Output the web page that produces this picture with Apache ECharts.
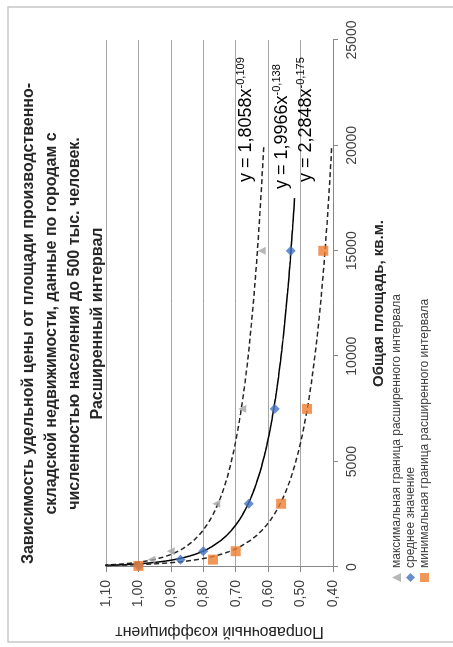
<!DOCTYPE html>
<html>
<head>
<meta charset="utf-8">
<script src="https://cdn.jsdelivr.net/npm/echarts@6/dist/echarts.min.js"></script>
<style>
  html, body { margin: 0; padding: 0; background: #fff; overflow: hidden; }
  /* the chart is laid out landscape and turned a quarter turn counter-clockwise */
  #main {
    position: absolute; left: 0; top: 0;
    width: 647px; height: 453px;
    transform-origin: 0 0;
    transform: translate(0, 647px) rotate(-90deg);
  }
</style>
</head>
<body>
<div id="main"></div>
<script>
// data
const areas = [50, 350, 750, 3000, 7500, 15000]
const maxCoef = [1.00, 0.96, 0.90, 0.76, 0.68, 0.62]
const meanCoef = [1.00, 0.87, 0.80, 0.66, 0.58, 0.53]
const minCoef = [1.00, 0.77, 0.70, 0.56, 0.48, 0.43]
const seriesNames = [
  'максимальная граница расширенного интервала',
  'среднее значение',
  'минимальная граница расширенного интервала'
]
// power trendlines as printed on the chart: y = a * x^b
const trendA = [1.8058, 1.9966, 2.2848]
const trendB = [-0.109, -0.138, -0.175]
const trendEnd = [20000, 17500, 20000]
const trendLabels = ['1,8058', '1,9966', '2,2848']
const trendPowLabels = ['-0,109', '-0,138', '-0,175']

const titleLines = [
  'Зависимость удельной цены от площади производственно-',
  'складской недвижимости, данные по городам с',
  'численностью населения до 500 тыс. человек.',
  'Расширенный интервал'
]

function pts (ys) {
  return areas.map((x, i) => [x, ys[i]])
}

function trend (k) {
  const res = []
  let x = 40
  while (x < trendEnd[k]) {
    res.push([x, trendA[k] * Math.pow(x, trendB[k])])
    x = x < 1000 ? x + 20 : x + 250
  }
  res.push([trendEnd[k], trendA[k] * Math.pow(trendEnd[k], trendB[k])])
  return res
}

const font = 'Liberation Sans, Arial, sans-serif'
const myChart = echarts.init(document.getElementById('main'), null, { renderer: 'canvas' })

const eqPos = [[465, 235], [458, 271], [465, 295]]

const option = {
  backgroundColor: '#fff',
  animation: false,
  textStyle: { fontFamily: font },
  title: {
    text: titleLines.join('\n'),
    left: 'center',
    top: 12,
    textStyle: { fontSize: 16, fontWeight: 'bold', color: '#262626', lineHeight: 23, fontFamily: font }
  },
  legend: {
    orient: 'vertical',
    left: 60,
    top: 385,
    itemWidth: 9,
    itemHeight: 9,
    itemGap: 1,
    data: seriesNames,
    textStyle: { fontSize: 12, color: '#404040', fontFamily: font, lineHeight: 13 }
  },
  grid: { left: 74, right: 40, top: 106, bottom: 120 },
  xAxis: {
    type: 'value',
    min: 0,
    max: 25000,
    interval: 5000,
    name: 'Общая площадь, кв.м.',
    nameLocation: 'middle',
    nameGap: 38,
    nameTextStyle: { fontSize: 15, fontWeight: 'bold', color: '#262626' },
    axisLine: { show: true, lineStyle: { color: '#868686' } },
    axisTick: { show: true, length: 5, lineStyle: { color: '#868686' } },
    axisLabel: { fontSize: 14, color: '#404040', margin: 12, formatter: v => String(v) },
    splitLine: { show: false }
  },
  yAxis: {
    type: 'value',
    min: 0.4,
    max: 1.1,
    interval: 0.1,
    name: 'Поправочный коэффициент',
    nameLocation: 'middle',
    nameGap: 56,
    nameTextStyle: { fontSize: 16, color: '#262626' },
    axisLine: { show: true, lineStyle: { color: '#868686' } },
    axisTick: { show: true, length: 5, lineStyle: { color: '#868686' } },
    axisLabel: {
      fontSize: 14,
      color: '#404040',
      margin: 13,
      formatter: v => v.toFixed(2).replace('.', ',')
    },
    splitLine: { show: true, lineStyle: { color: '#a6a6a6', width: 1 } }
  },
  graphic: [
    {
      type: 'rect',
      shape: { x: 5, y: 8, width: 635, height: 460 },
      style: { fill: 'none', stroke: '#c8c8c8', lineWidth: 1.5 },
      silent: true
    }
  ].concat(trendLabels.map((t, k) => ({
    type: 'text',
    left: eqPos[k][0],
    top: eqPos[k][1],
    z: 100,
    style: {
      text: '{a|y = ' + t + 'x}{s|' + trendPowLabels[k] + '}',
      rich: {
        a: { fontSize: 18, fontFamily: font, fill: '#000', lineHeight: 22 },
        s: { fontSize: 11, fontFamily: font, fill: '#000', lineHeight: 22, padding: [0, 0, 11, 0] }
      }
    }
  }))),
  series: [
    {
      name: seriesNames[0],
      type: 'scatter',
      symbol: 'triangle',
      symbolSize: 8,
      itemStyle: { color: '#a5a5a5' },
      data: pts(maxCoef),
      z: 5
    },
    {
      name: seriesNames[1],
      type: 'scatter',
      symbol: 'diamond',
      symbolSize: 10,
      itemStyle: { color: '#4472c4' },
      data: pts(meanCoef),
      z: 5
    },
    {
      name: seriesNames[2],
      type: 'scatter',
      symbol: 'rect',
      symbolSize: 10,
      itemStyle: { color: '#ed7d31' },
      data: pts(minCoef),
      z: 5
    },
    {
      type: 'line',
      showSymbol: false,
      clip: true,
      data: trend(0),
      lineStyle: { color: '#262626', width: 1.5, type: [5, 3] },
      z: 3
    },
    {
      type: 'line',
      showSymbol: false,
      clip: true,
      data: trend(1),
      lineStyle: { color: '#000', width: 1.5, type: 'solid' },
      z: 3
    },
    {
      type: 'line',
      showSymbol: false,
      clip: true,
      data: trend(2),
      lineStyle: { color: '#262626', width: 1.5, type: [5, 3] },
      z: 3
    }
  ]
}

myChart.setOption(option)
</script>
</body>
</html>
